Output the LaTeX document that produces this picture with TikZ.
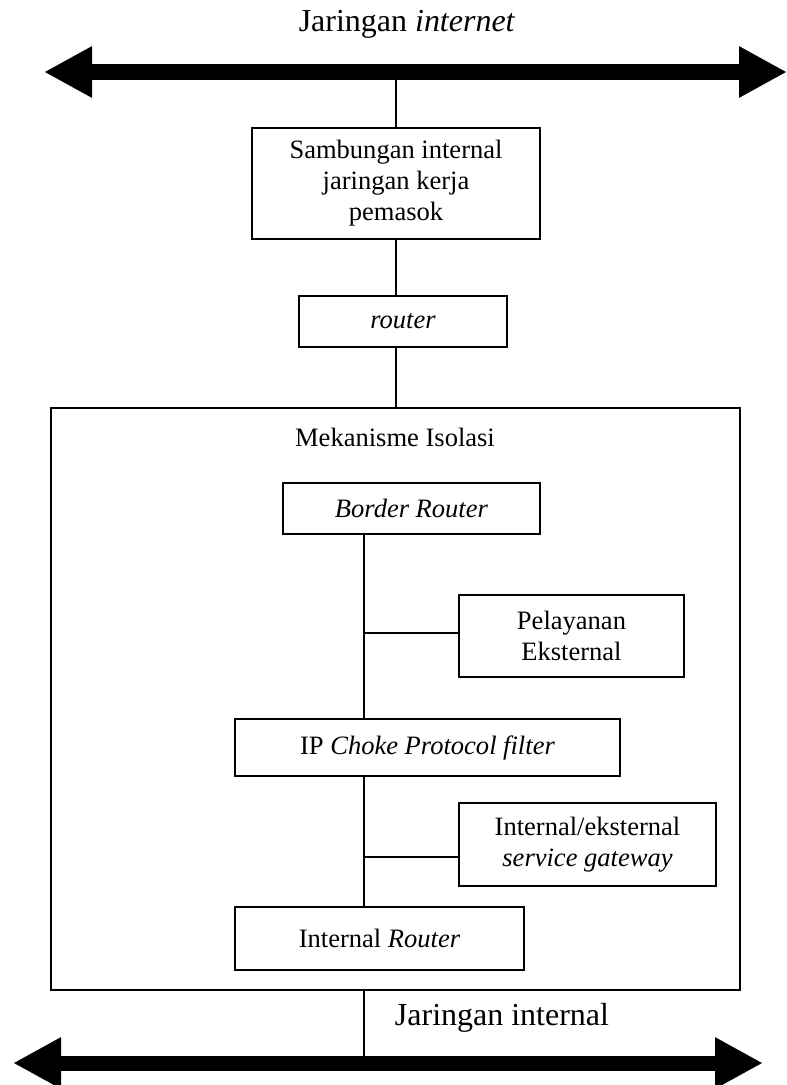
\documentclass[tikz,border=0pt]{standalone}
\usepackage{fontspec}
\setmainfont{Liberation Serif}
\usetikzlibrary{arrows.meta}
\newcommand{\hurufisi}{\fontsize{15.1}{17.6}\selectfont}
\newcommand{\hurufjudul}{\fontsize{18.2}{21}\selectfont}
\begin{document}
\begin{tikzpicture}[line width=0.8pt,
	kotak/.style={draw,align=center,inner sep=0pt,font=\hurufisi},
	judul/.style={inner sep=0pt,font=\hurufjudul},
	jalur/.style={line width=0.32cm,{Triangle[length=0.96cm,width=0.96cm]}-{Triangle[length=0.96cm,width=0.96cm]}}]
\useasboundingbox (0,0) rectangle (15.74,-21.7);
% jaringan internet
\node[judul] (labelnet) at (8.14,-0.48) {Jaringan \textit{internet}};
\coordinate (netkiri) at (0.88,-1.44);
\coordinate (netkanan) at (15.74,-1.44);
% sambungan dan router
\node[kotak,minimum width=5.76cm,minimum height=2.22cm] (sambungan) at (7.92,-3.67) {Sambungan internal\\jaringan kerja\\pemasok};
\node[kotak,minimum width=4.16cm,minimum height=1.02cm] (router) at (8.06,-6.43) {\textit{router}};
% mekanisme isolasi
\node[draw,minimum width=13.78cm,minimum height=11.64cm] (isolasi) at (7.91,-13.98) {};
\node[font=\hurufisi,inner sep=0pt] (judulisolasi) at (7.9,-8.74) {Mekanisme Isolasi};
\node[kotak,minimum width=5.14cm,minimum height=1.02cm] (border) at (8.23,-10.17) {\textit{Border Router}};
\node[kotak,minimum width=4.5cm,minimum height=1.64cm] (pelayanan) at (11.43,-12.72) {Pelayanan\\Eksternal};
\node[kotak,minimum width=7.7cm,minimum height=1.14cm] (choke) at (8.55,-14.95) {IP \textit{Choke Protocol filter}};
\node[kotak,minimum width=5.14cm,minimum height=1.66cm] (gateway) at (11.75,-16.89) {Internal/eksternal\\\textit{service gateway}};
\node[kotak,minimum width=5.78cm,minimum height=1.26cm] (internal) at (7.59,-18.77) {Internal \textit{Router}};
\coordinate (batang) at (7.28,0);
\coordinate (cab1) at (7.28,-12.66);
\coordinate (cab2) at (7.28,-17.14);
% jaringan internal
\node[judul] (labellan) at (10.04,-20.35) {Jaringan internal};
\coordinate (lankiri) at (0.26,-21.26);
\coordinate (lankanan) at (15.26,-21.26);
% garis
\draw (sambungan.north) -- (sambungan.north |- netkiri);
\draw (sambungan.south) -- (sambungan.south |- router.north);
\draw (sambungan.south |- router.south) -- (sambungan.south |- isolasi.north);
\draw (batang |- border.south) -- (batang |- choke.north);
\draw (cab1) -- (cab1 -| pelayanan.west);
\draw (batang |- choke.south) -- (batang |- internal.north);
\draw (cab2) -- (cab2 -| gateway.west);
\draw (batang |- isolasi.south) -- (batang |- lankiri);
\draw[jalur] (netkiri) -- (netkanan);
\draw[jalur,line width=0.3cm] (lankiri) -- (lankanan);
\end{tikzpicture}
\end{document}
